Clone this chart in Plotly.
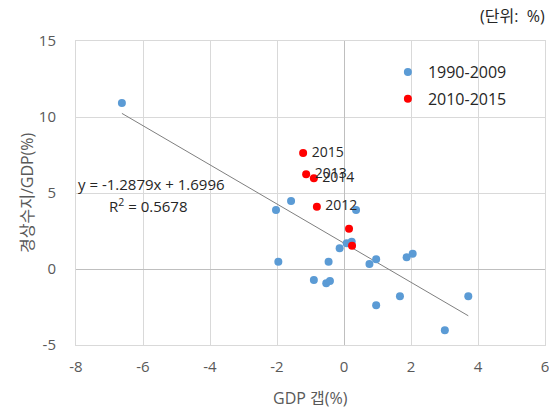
import plotly.graph_objects as go

# 1990-2009 (GDP gap %, current account/GDP %)
gap_9009 = [-6.63, -2.03, -1.58, 0.36, -1.96, -0.46, -0.13, 0.08, 0.23, 0.76,
            0.96, 1.87, 2.05, -0.90, -0.53, -0.42, 0.96, 1.67, 3.71, 3.01]
ca_9009 = [10.92, 3.88, 4.47, 3.88, 0.48, 0.48, 1.36, 1.69, 1.80, 0.33,
           0.64, 0.77, 1.01, -0.72, -0.94, -0.79, -2.39, -1.80, -1.80, -4.03]

# 2010-2015
gap_1015 = [0.15, 0.24, -0.81, -1.13, -0.90, -1.22]
ca_1015 = [2.65, 1.53, 4.10, 6.23, 5.97, 7.63]
labels_1015 = [None, None, "2012", "2013", "2014", "2015"]

# Trendline
slope = -1.2879
intercept = 1.6996
r2 = 0.5678

x_ticks = [-8, -6, -4, -2, 0, 2, 4, 6]
x_tick_labels = ["-8", "-6", "-4", "-2", "0", "2", "4", "6"]
y_ticks = [-5, 0, 5, 10, 15]
y_tick_labels = ["-5", "0", "5", "10", "15"]

all_x = gap_9009 + gap_1015
tx = [min(all_x), max(all_x)]
ty = [slope * v + intercept for v in tx]

font_fam = "Open Sans, Noto Sans CJK KR, sans-serif"
fig = go.Figure()
fig.add_trace(go.Scatter(x=tx, y=ty, mode="lines",
                         line=dict(color="#7F7F7F", width=1),
                         showlegend=False, hoverinfo="skip"))
fig.add_trace(go.Scatter(x=gap_9009, y=ca_9009, mode="markers", name="1990-2009",
                         legendgroup="a",
                         marker=dict(color="#5B9BD5", size=8)))
fig.add_trace(go.Scatter(x=gap_1015, y=ca_1015, mode="markers", name="2010-2015",
                         legendgroup="b",
                         marker=dict(color="#FF0000", size=8)))
lab_idx = [i for i, t in enumerate(labels_1015) if t]
fig.add_trace(go.Scatter(x=[gap_1015[i] for i in lab_idx], y=[ca_1015[i] for i in lab_idx],
                         mode="markers+text", text=[labels_1015[i] for i in lab_idx],
                         marker=dict(color="rgba(0,0,0,0)", size=12),
                         textposition="middle right", showlegend=False, hoverinfo="skip",
                         textfont=dict(size=14, color="#262626", family=font_fam)))

fig.add_annotation(x=-5.76, y=5.59, text=f"y = {slope}x + {intercept}", showarrow=False,
                   font=dict(size=15, color="#262626", family=font_fam))
fig.add_annotation(x=-5.85, y=4.21, text=f"R<sup>2</sup> = {r2}", showarrow=False,
                   font=dict(size=15, color="#262626", family=font_fam))
fig.add_annotation(xref="paper", yref="paper", x=1.004, y=1.0, yshift=25, xanchor="right",
                   yanchor="middle", text="(단위:  %)", showarrow=False,
                   font=dict(size=16, color="#262626", family=font_fam))
fig.add_annotation(xref="paper", yref="paper", x=0.501, y=0, yshift=-53,
                   yanchor="middle", text="GDP 갭(%)", showarrow=False,
                   font=dict(size=16, color="#595959", family=font_fam))
fig.add_annotation(xref="paper", yref="paper", x=0, xshift=-49, y=0.50, textangle=-90,
                   xanchor="center", yanchor="middle", text="경상수지/GDP(%)", showarrow=False,
                   font=dict(size=16, color="#595959", family=font_fam))

# page body has an 8px default margin: figure sized/offset to compensate
fig.update_layout(
    width=549, height=403,
    margin=dict(l=68, r=12, t=33, b=66, autoexpand=False),
    paper_bgcolor="white", plot_bgcolor="white",
    font=dict(family=font_fam, size=15, color="#595959"),
    legend=dict(x=0.665, y=0.954, xanchor="left", yanchor="top",
                font=dict(size=16, color="#262626"), bgcolor="rgba(0,0,0,0)",
                traceorder="grouped", tracegroupgap=3),
    xaxis=dict(range=[-8, 6], tickvals=x_ticks, ticktext=x_tick_labels, showgrid=True,
               gridcolor="#D9D9D9",
               zeroline=True, zerolinecolor="#BFBFBF", zerolinewidth=1, automargin=False,
               showline=True, linecolor="#D9D9D9", mirror=True, ticks="", ticklabelstandoff=8),
    yaxis=dict(range=[-5, 15], tickvals=y_ticks, ticktext=y_tick_labels, showgrid=True,
               gridcolor="#D9D9D9",
               zeroline=True, zerolinecolor="#BFBFBF", zerolinewidth=1, automargin=False,
               showline=True, linecolor="#D9D9D9", mirror=True, ticks="", ticklabelstandoff=16),
)

fig.write_html("out.html")
